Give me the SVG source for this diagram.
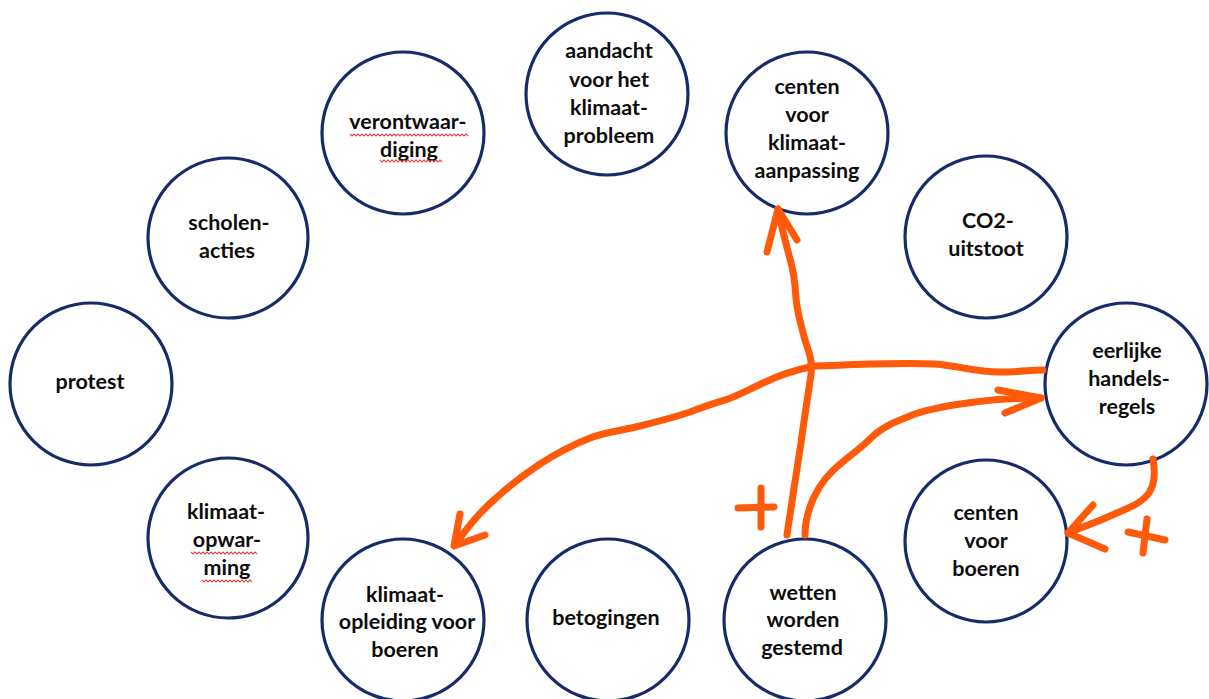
<svg xmlns="http://www.w3.org/2000/svg" width="1209" height="699" viewBox="0 0 1209 699">
<style>
.node circle{fill:#fff;stroke:#172b69;stroke-width:3.2}
.node text{font-family:Lato,"Open Sans",sans-serif;font-weight:700;font-size:21.5px;fill:#0d0d0d;text-anchor:middle}
.wave{fill:none;stroke:#e04848;stroke-width:1.1}
.con{fill:none;stroke:#ff5a0a;stroke-width:7;stroke-linecap:round;stroke-linejoin:round}
</style>
<rect width="1209" height="699" fill="#fff"/>
<g id="aandacht" class="node"><circle cx="607" cy="94" r="81"/>
<text x="609" y="58">aandacht</text><text x="609" y="87">voor het</text><text x="609" y="115">klimaat-</text><text x="609" y="143">probleem</text></g>
<g id="verontwaardiging" class="node"><circle cx="403" cy="133" r="81"/>
<text x="408" y="129">verontwaar-</text><text x="409" y="157">diging</text>
<path class="wave" d="M350 134 l2 2 l2 -2 l2 2 l2 -2 l2 2 l2 -2 l2 2 l2 -2 l2 2 l2 -2 l2 2 l2 -2 l2 2 l2 -2 l2 2 l2 -2 l2 2 l2 -2 l2 2 l2 -2 l2 2 l2 -2 l2 2 l2 -2 l2 2 l2 -2 l2 2 l2 -2 l2 2 l2 -2 l2 2 l2 -2 l2 2 l2 -2 l2 2 l2 -2 l2 2 l2 -2 l2 2 l2 -2 l2 2 l2 -2 l2 2 l2 -2 l2 2 l2 -2 l2 2 l2 -2 l2 2 l2 -2 l2 2 l2 -2 l2 2 l2 -2 l2 2 l2 -2 l2 2 l2 -2 l2 2"/>
<path class="wave" d="M380 160 l2 2 l2 -2 l2 2 l2 -2 l2 2 l2 -2 l2 2 l2 -2 l2 2 l2 -2 l2 2 l2 -2 l2 2 l2 -2 l2 2 l2 -2 l2 2 l2 -2 l2 2 l2 -2 l2 2 l2 -2 l2 2 l2 -2 l2 2 l2 -2 l2 2 l2 -2 l2 2 l2 -2 l2 2"/></g>
<g id="centen-klimaat" class="node"><circle cx="807" cy="133" r="81"/>
<text x="807" y="94">centen</text><text x="807" y="122">voor</text><text x="807" y="150">klimaat-</text><text x="807" y="178">aanpassing</text></g>
<g id="co2" class="node"><circle cx="986" cy="237" r="81"/>
<text x="988" y="228">CO2-</text><text x="986" y="256">uitstoot</text></g>
<g id="scholen" class="node"><circle cx="228" cy="238" r="80"/>
<text x="229" y="230">scholen-</text><text x="227" y="258">acties</text></g>
<g id="protest" class="node"><circle cx="91" cy="384" r="81"/>
<text x="90" y="389">protest</text></g>
<g id="eerlijke" class="node"><circle cx="1126" cy="384" r="81"/>
<text x="1127" y="358">eerlijke</text><text x="1129" y="386">handels-</text><text x="1127" y="414">regels</text></g>
<g id="klimaat-opwarming" class="node"><circle cx="228" cy="538" r="80"/>
<text x="226" y="519">klimaat-</text><text x="227" y="547">opwar-</text><text x="227" y="575">ming</text>
<path class="wave" d="M191 552 l2 2 l2 -2 l2 2 l2 -2 l2 2 l2 -2 l2 2 l2 -2 l2 2 l2 -2 l2 2 l2 -2 l2 2 l2 -2 l2 2 l2 -2 l2 2 l2 -2 l2 2 l2 -2 l2 2 l2 -2 l2 2 l2 -2 l2 2 l2 -2 l2 2 l2 -2 l2 2 l2 -2 l2 2 l2 -2 l2 2"/>
<path class="wave" d="M202 580 l2 2 l2 -2 l2 2 l2 -2 l2 2 l2 -2 l2 2 l2 -2 l2 2 l2 -2 l2 2 l2 -2 l2 2 l2 -2 l2 2 l2 -2 l2 2 l2 -2 l2 2 l2 -2 l2 2 l2 -2 l2 2 l2 -2 l2 2"/></g>
<g id="centen-boeren" class="node"><circle cx="986" cy="541" r="81"/>
<text x="986" y="520">centen</text><text x="986" y="548">voor</text><text x="986" y="576">boeren</text></g>
<g id="klimaat-opleiding" class="node"><circle cx="403" cy="620" r="81"/>
<text x="405" y="602">klimaat-</text><text x="407" y="629">opleiding voor</text><text x="405" y="657">boeren</text></g>
<g id="betogingen" class="node"><circle cx="608" cy="620" r="81"/>
<text x="606" y="625">betogingen</text></g>
<g id="wetten" class="node"><circle cx="805" cy="620" r="81"/>
<text x="803" y="600">wetten</text><text x="803" y="627">worden</text><text x="802" y="655">gestemd</text></g>
<g id="connectors">
<path class="con" d="M787 535 C789 520 792 503 794 488 C797 470 799 455 801 443 C804 420 808 395 811 375 C813 360 808 350 805 340 C801 325 797 312 796 298 C795 280 792 265 789 255 C785 240 781 225 778 209"/>
<path class="con" d="M767 252 L778 209 L797 240"/>
<path class="con" d="M810 366 C850 365 900 362 935 364 C960 366 975 372 1000 372 C1020 372 1030 370 1043 370"/>
<path class="con" d="M810 367 C795 370 780 375 763 383 C750 389 742 394 728 399 C715 403 705 406 690 412 C672 418 660 421 640 426 C625 430 605 432 590 438 C575 444 560 451 540 464 C525 474 510 485 495 499 C480 512 468 526 455 545"/>
<path class="con" d="M460 514 L454 546 L485 535"/>
<path class="con" d="M805 535 C805 522 808 510 814 497 C820 484 832 470 845 460 C855 452 862 447 872 437 C885 425 900 420 915 414 C930 409 950 405 975 402 C995 399 1020 398 1041 398"/>
<path class="con" d="M998 390 L1041 398 L1005 413"/>
<path class="con" d="M1153 459 C1155 470 1156 482 1149 493 C1140 505 1125 509 1110 516 C1095 523 1082 527 1068 533"/>
<path class="con" d="M1093 505 L1068 533 L1105 549"/>
<path class="con" d="M761 488 L761 527 M738 508 L774 507"/>
<path class="con" d="M1147 519 L1143 553 M1128 532 L1165 540"/>
</g>
</svg>
